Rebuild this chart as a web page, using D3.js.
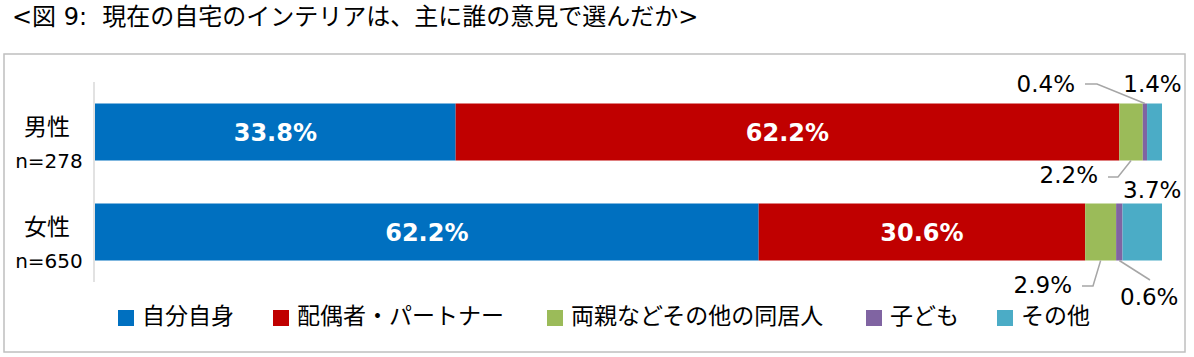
<!DOCTYPE html>
<html><head><meta charset="utf-8">
<script src="https://cdn.jsdelivr.net/npm/d3@7"></script>
<style>
html,body{margin:0;padding:0;background:#fff;}
svg text{white-space:pre;}
</style></head>
<body>
<svg id="chart" width="1194" height="357"></svg>
<script>
const title = "<図 9:  現在の自宅のインテリアは、主に誰の意見で選んだか>";
const categories = ["男性", "女性"];
const sampleLabels = ["n=278", "n=650"];
const seriesNames = ["自分自身", "配偶者・パートナー", "両親などその他の同居人", "子ども", "その他"];
const seriesColors = ["#0070C0", "#C00000", "#9BBB59", "#8064A2", "#4BACC6"];
const valuesMale   = [33.8, 62.2, 2.2, 0.4, 1.4];
const valuesFemale = [62.2, 30.6, 2.9, 0.6, 3.7];

const svg = d3.select("#chart");
const latin = "'DejaVu Sans', 'Noto Sans CJK JP', sans-serif";
const cjk = "'DejaVu Sans', 'Noto Sans CJK JP', sans-serif";

// frame
svg.append("rect").attr("x", 4).attr("y", 54).attr("width", 1181).attr("height", 298)
  .attr("fill", "#fff").attr("stroke", "#bfbfbf").attr("stroke-width", 1.5);

// title
svg.append("text").attr("x", 12).attr("y", 25).attr("font-family", cjk)
  .attr("font-size", 24).attr("fill", "#000").text(title);

const x = d3.scaleLinear().domain([0, 100]).range([95, 1162]);
const y = d3.scaleBand().domain(categories).range([82, 282]).paddingInner(0.43).paddingOuter(0.215);

const rows = [valuesMale, valuesFemale].map((vals, i) => {
  let acc = 0;
  return vals.map((v, j) => {
    const d = {cat: categories[i], series: j, value: v, x0: acc, x1: acc + v};
    acc += v;
    return d;
  });
});

// bars
rows.forEach(row => {
  svg.append("g").selectAll("rect").data(row).join("rect")
    .attr("x", d => x(d.x0))
    .attr("y", d => y(d.cat))
    .attr("width", d => x(d.x1) - x(d.x0))
    .attr("height", y.bandwidth())
    .attr("fill", d => seriesColors[d.series]);
});

// axis line
svg.append("line").attr("x1", 94).attr("x2", 94).attr("y1", 82).attr("y2", 282)
  .attr("stroke", "#d9d9d9").attr("stroke-width", 1.5);

// category labels
categories.forEach((c, i) => {
  const cy = y(c) + y.bandwidth() / 2;
  svg.append("text").attr("x", 47).attr("y", cy + 3).attr("text-anchor", "middle")
    .attr("font-family", cjk).attr("font-size", 23).attr("fill", "#000").text(c);
  svg.append("text").attr("x", 49).attr("y", cy + 36).attr("text-anchor", "middle")
    .attr("font-family", latin).attr("font-size", 20).attr("fill", "#000").text(sampleLabels[i]);
});

const fmt = v => v.toFixed(1) + "%";

// inside labels for the two big series
rows.forEach(row => {
  row.filter(d => d.series < 2).forEach(d => {
    svg.append("text")
      .attr("x", (x(d.x0) + x(d.x1)) / 2)
      .attr("y", y(d.cat) + y.bandwidth() / 2 + 9)
      .attr("text-anchor", "middle")
      .attr("font-family", "'DejaVu Sans', sans-serif").attr("font-weight", "bold")
      .attr("font-size", 24).attr("fill", "#fff").text(fmt(d.value));
  });
});

// outside labels with leaders (layout offsets only)
const outside = [
  // row, series, anchor, label dx from seg center, label y relative to bar, leader points relative
  {r:0, s:4, anchor:"middle", side:"top", dx:-2, dy:-11.5, leader:null},
  {r:0, s:3, anchor:"end", side:"top", tx:1075, dy:-11.5, leader:[[1085,84],[1097,84]]},
  {r:0, s:2, anchor:"end", side:"bottom", tx:1098, dy:22.5, leader:[[1108,177],[1118,177]]},
  {r:1, s:4, anchor:"middle", side:"top", dx:10, dy:-5.5, leader:null},
  {r:1, s:2, anchor:"end", side:"bottom", tx:1072, dy:32.5, leader:[[1082,286],[1093,286]]},
  {r:1, s:3, anchor:"start", side:"bottom", tx:1120, dy:44.5, leader:[[1150,280]]}
];
const leaderGen = d3.line();
outside.forEach(o => {
  const d = rows[o.r][o.s];
  const cx = (x(d.x0) + x(d.x1)) / 2;
  const edgeY = o.side === "top" ? y(d.cat) : y(d.cat) + y.bandwidth();
  const tx = o.tx !== undefined ? o.tx : cx + o.dx;
  svg.append("text").attr("x", tx).attr("y", edgeY + o.dy)
    .attr("text-anchor", o.anchor).attr("font-family", latin)
    .attr("font-size", 23).attr("fill", "#000").text(fmt(d.value));
  if (o.leader) {
    const pts = o.leader.concat([[cx, edgeY]]);
    svg.append("path").attr("d", leaderGen(pts)).attr("fill", "none")
      .attr("stroke", "#a6a6a6").attr("stroke-width", 1.5);
  }
});

// legend
const legendX = [118, 273, 547, 866, 997];
const lg = svg.append("g").selectAll("g").data(seriesNames).join("g")
  .attr("transform", (d, i) => `translate(${legendX[i]},310)`);
lg.append("rect").attr("width", 16).attr("height", 16).attr("fill", (d, i) => seriesColors[i]);
lg.append("text").attr("x", 24).attr("y", 14).attr("font-family", "'Noto Sans CJK JP', sans-serif")
  .attr("font-size", 23).attr("fill", "#000").text(d => d);
</script>
</body></html>
